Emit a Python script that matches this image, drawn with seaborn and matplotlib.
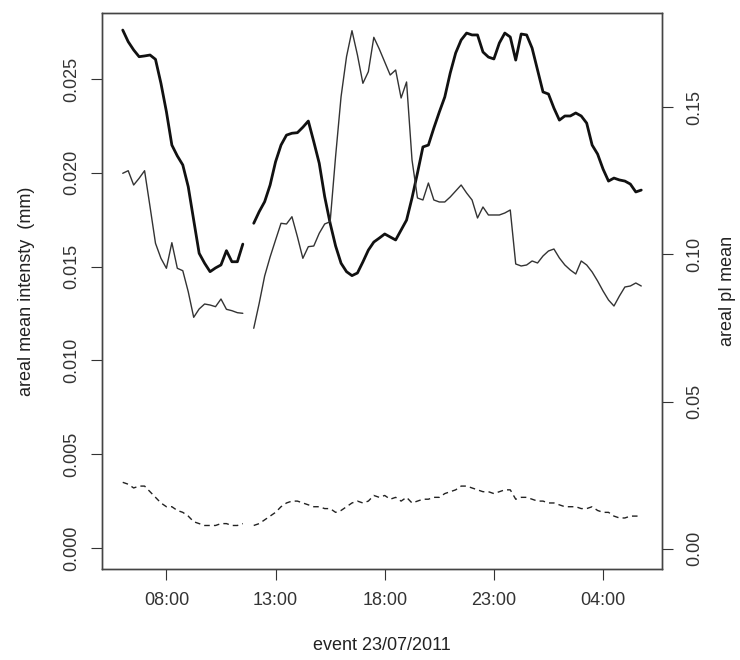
import numpy as np
import pandas as pd
import matplotlib
matplotlib.use("Agg")
import matplotlib.pyplot as plt
import seaborn as sns

# time in hours from 06:00 (23/07/2011) to 05:45 next day, 15-min steps
hours = np.arange(6.0, 30.0, 0.25)
gap_index = 23  # 11:45 missing

# thick line: areal mean intensity (mm) -- left axis
intensity = [
    0.02761, 0.02699, 0.02655, 0.02619, 0.02623, 0.02628, 0.02605, 0.02477,
    0.02326, 0.02148, 0.02090, 0.02042, 0.01926, 0.01748, 0.01571, 0.01518,
    0.01473, 0.01493, 0.01509, 0.01585, 0.01526, 0.01526, 0.01620, np.nan,
    0.01731, 0.01793, 0.01846, 0.01935, 0.02059, 0.02148, 0.02201, 0.02211,
    0.02214, 0.02243, 0.02276, 0.02166, 0.02051, 0.01873, 0.01731, 0.01610,
    0.01518, 0.01473, 0.01452, 0.01466, 0.01525, 0.01588, 0.01631, 0.01652,
    0.01674, 0.01658, 0.01642, 0.01695, 0.01748, 0.01866, 0.01999, 0.02138,
    0.02148, 0.02239, 0.02324, 0.02404, 0.02532, 0.02639, 0.02708, 0.02745,
    0.02735, 0.02735, 0.02644, 0.02617, 0.02607, 0.02692, 0.02745, 0.02724,
    0.02601, 0.02740, 0.02735, 0.02665, 0.02548, 0.02431, 0.02420, 0.02345,
    0.02281, 0.02303, 0.02303, 0.02319, 0.02303, 0.02265, 0.02148, 0.02100,
    0.02020, 0.01956, 0.01972, 0.01962, 0.01956, 0.01940, 0.01898, 0.01908,
]

# dashed line -- left axis
intensity_low = [
    0.0035, 0.0034, 0.0032, 0.0033, 0.0033, 0.0030, 0.0027, 0.0024,
    0.0022, 0.0022, 0.0020, 0.0019, 0.0017, 0.0014, 0.0013, 0.0012,
    0.0012, 0.0012, 0.0013, 0.0013, 0.0012, 0.0012, 0.0013, np.nan,
    0.0012, 0.0013, 0.0015, 0.0017, 0.0019, 0.0022, 0.0024, 0.0025,
    0.0025, 0.0024, 0.0023, 0.0022, 0.0022, 0.0021, 0.0021, 0.0019,
    0.0020, 0.0022, 0.0024, 0.0025, 0.0024, 0.0025, 0.0028, 0.0027,
    0.0028, 0.0026, 0.0027, 0.0025, 0.0027, 0.0024, 0.0025, 0.0026,
    0.0026, 0.0027, 0.0027, 0.0029, 0.0030, 0.0031, 0.0033, 0.0033,
    0.0032, 0.0031, 0.0030, 0.0030, 0.0029, 0.0030, 0.0031, 0.0031,
    0.0026, 0.0027, 0.0027, 0.0026, 0.0025, 0.0025, 0.0024, 0.0024,
    0.0023, 0.0022, 0.0022, 0.0022, 0.0021, 0.0021, 0.0022, 0.0020,
    0.0019, 0.0019, 0.0017, 0.0016, 0.0016, 0.0017, 0.0017, 0.0017,
]

# thin line: areal pI mean -- right axis
pi_mean = [
    0.12757, 0.12845, 0.12359, 0.12587, 0.12845, 0.11622, 0.10378, 0.09868,
    0.09529, 0.10399, 0.09529, 0.09447, 0.08733, 0.07863, 0.08146, 0.08315,
    0.08281, 0.08224, 0.08485, 0.08135, 0.08088, 0.08020, 0.07999, np.nan,
    0.07490, 0.08339, 0.09267, 0.09913, 0.10490, 0.11058, 0.11034, 0.11282,
    0.10603, 0.09868, 0.10263, 0.10286, 0.10718, 0.11034, 0.11112, 0.13335,
    0.15360, 0.16719, 0.17603, 0.16777, 0.15815, 0.16210, 0.17378, 0.16981,
    0.16539, 0.16097, 0.16267, 0.15316, 0.15860, 0.13209, 0.11918, 0.11850,
    0.12427, 0.11850, 0.11782, 0.11782, 0.11952, 0.12155, 0.12359, 0.12088,
    0.11850, 0.11238, 0.11612, 0.11340, 0.11340, 0.11340, 0.11408, 0.11510,
    0.09675, 0.09607, 0.09641, 0.09777, 0.09709, 0.09947, 0.10117, 0.10184,
    0.09879, 0.09641, 0.09471, 0.09335, 0.09777, 0.09641, 0.09403, 0.09097,
    0.08757, 0.08451, 0.08247, 0.08587, 0.08893, 0.08927, 0.09029, 0.08927,
]

x_ticks = [8, 13, 18, 23, 28]
x_tick_labels = ["08:00", "13:00", "18:00", "23:00", "04:00"]
left_ticks = [0.000, 0.005, 0.010, 0.015, 0.020, 0.025]
left_tick_labels = ["0.000", "0.005", "0.010", "0.015", "0.020", "0.025"]
right_ticks = [0.00, 0.05, 0.10, 0.15]
right_tick_labels = ["0.00", "0.05", "0.10", "0.15"]

segment = np.where(np.arange(len(hours)) < gap_index, 0, 1)
df = pd.DataFrame({"t": hours, "seg": segment, "intensity": intensity,
                   "low": intensity_low, "pi": pi_mean})

sns.set_style("white")
plt.rcParams["font.family"] = ["Liberation Sans", "DejaVu Sans"]
plt.rcParams["text.color"] = "#222222"
plt.rcParams["axes.labelcolor"] = "#222222"
plt.rcParams["xtick.color"] = "#333333"
plt.rcParams["ytick.color"] = "#333333"

fig = plt.figure(figsize=(7.4, 6.6), dpi=100)
ax = fig.add_axes([102 / 740, 1 - 569 / 660, 560 / 740, 556 / 660])
ax2 = ax.twinx()

d = df.dropna(subset=["intensity"])
sns.lineplot(data=d, x="t", y="intensity", units="seg", estimator=None,
             ax=ax, color="#111111", linewidth=2.0, legend=False)
d = df.dropna(subset=["low"])
sns.lineplot(data=d, x="t", y="low", units="seg", estimator=None,
             ax=ax, color="#222222", linewidth=1.0, linestyle=(0, (4, 3)),
             legend=False)
d = df.dropna(subset=["pi"])
sns.lineplot(data=d, x="t", y="pi", units="seg", estimator=None,
             ax=ax2, color="#333333", linewidth=1.0, legend=False)

ax.set_xlim(5.05, 30.70)
ax.set_ylim(-0.00112, 0.02852)
ax2.set_ylim(-0.00690, 0.18204)

ax.set_xticks(x_ticks)
ax.set_xticklabels(x_tick_labels)
ax.set_yticks(left_ticks)
ax.set_yticklabels(left_tick_labels, rotation=90, va="center")
ax2.set_yticks(right_ticks)
ax2.set_yticklabels(right_tick_labels, rotation=90, va="center")

fs = 13
ax.tick_params(axis="x", direction="out", length=8, width=0.8, pad=8.6,
               labelsize=fs, bottom=True, top=False)
ax.tick_params(axis="y", direction="out", length=8, width=0.8, pad=7.9,
               labelsize=fs, left=True, right=False)
ax2.tick_params(axis="y", direction="out", length=8, width=0.8, pad=9.4,
                labelsize=fs, right=True, left=False)

for a in (ax, ax2):
    for s in a.spines.values():
        s.set_visible(True)
        s.set_color("#444444")
        s.set_linewidth(1.0)

ax.set_xlabel("event 23/07/2011", fontsize=fs)
ax.set_ylabel("areal mean intensty  (mm)", fontsize=fs)
ax2.set_ylabel("areal pI mean", fontsize=fs)
ax.xaxis.set_label_coords(0.5, -0.1223)
ax.yaxis.set_label_coords(-0.1196, 0.5)
ax2.yaxis.set_label_coords(1.1018, 0.5)
ax.grid(False)
ax2.grid(False)

fig.savefig("out.png", dpi=100, facecolor="white")
